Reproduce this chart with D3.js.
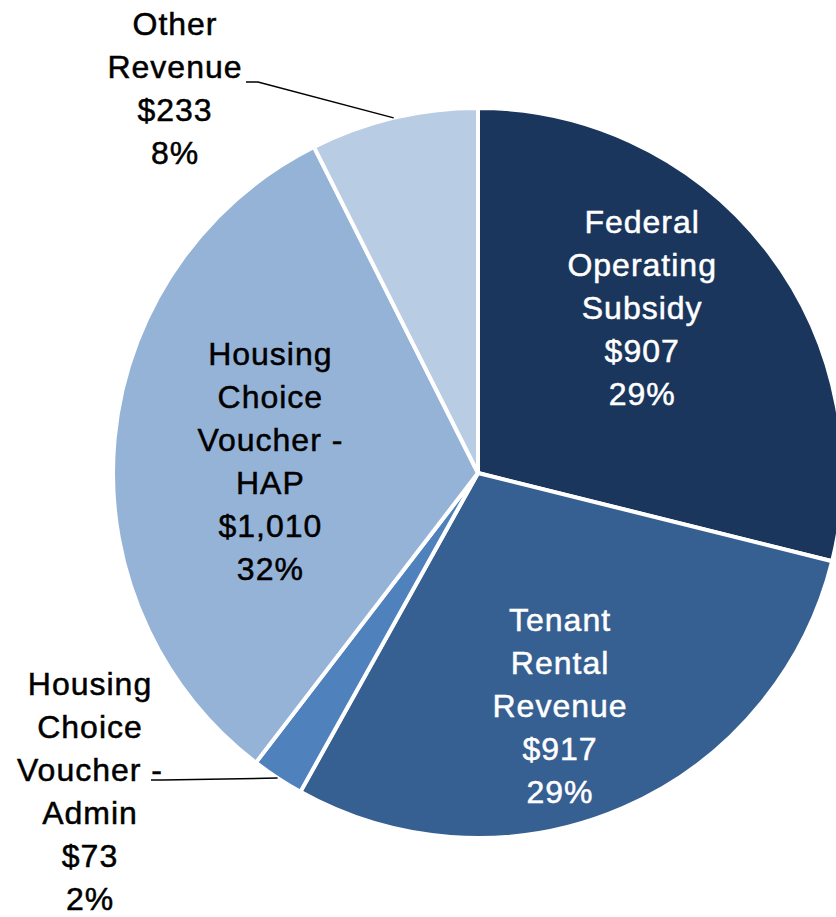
<!DOCTYPE html>
<html>
<head>
<meta charset="utf-8">
<script src="https://cdnjs.cloudflare.com/ajax/libs/d3/7.8.5/d3.min.js"></script>
<style>
  body { margin: 0; background: #fff; }
  text { font-family: "Liberation Sans", Arial, sans-serif; font-size: 32px; letter-spacing: 1px; stroke-width: 0.5px; }
</style>
</head>
<body>
<div id="chart"></div>
<script>
const svgWidth = 836;
const svgHeight = 917;

// data
const categories = ["Federal Operating Subsidy", "Tenant Rental Revenue", "Housing Choice Voucher - Admin", "Housing Choice Voucher - HAP", "Other Revenue"];
const labelLines = [
  ["Federal", "Operating", "Subsidy"],
  ["Tenant", "Rental", "Revenue"],
  ["Housing", "Choice", "Voucher -", "Admin"],
  ["Housing", "Choice", "Voucher -", "HAP"],
  ["Other", "Revenue"]
];
const values = [907, 917, 73, 1010, 233];
const pctLabels = ["29%", "29%", "2%", "32%", "8%"];
const colors = ["#1b365d", "#376092", "#4f81bd", "#95b3d7", "#b8cce4"];
const textColors = ["#fff", "#fff", "#000", "#000", "#000"];

const cx = 478, cy = 473, radius = 365;
const lineH = 43;

let svg = d3.select("#chart").append("svg").attr("width", svgWidth).attr("height", svgHeight);
let g = svg.append("g").attr("transform", `translate(${cx}, ${cy})`);

let pie = d3.pie().sort(null).value(d => d.value);
let arcs = pie(values.map((v, i) => ({ value: v, i: i })));
let arc = d3.arc().innerRadius(0).outerRadius(radius);

g.selectAll("path.slice")
  .data(arcs)
  .enter()
  .append("path")
  .attr("class", "slice")
  .attr("d", arc)
  .attr("fill", d => colors[d.data.i])
  .attr("stroke", "#fff")
  .attr("stroke-width", 4)
  .attr("stroke-linejoin", "round");

// label placement: inside labels as polar (angle, dist), outside labels with leader lines
let inside = { 0: [44.8, 233], 1: [160.6, 247], 3: [273.3, 208] };
let outside = { 4: { elbow: [-220, -391], text: [-303, -385] }, 2: { elbow: [-315, 307], text: [-388, 318] } };

let fmt = d3.format(",");
let lbls = arcs.map(d => {
  let i = d.data.i;
  let lines = labelLines[i].concat(["$" + fmt(values[i]), pctLabels[i]]);
  return { d: d, i: i, lines: lines };
});

lbls.forEach(l => {
  let x, y;
  if (inside[l.i]) {
    let a = inside[l.i][0] * Math.PI / 180;
    x = Math.sin(a) * inside[l.i][1];
    y = -Math.cos(a) * inside[l.i][1];
  } else {
    let o = outside[l.i];
    let mid = (l.d.startAngle + l.d.endAngle) / 2;
    let p0 = [Math.sin(mid) * radius, -Math.cos(mid) * radius];
    g.append("polyline")
      .attr("points", [p0, o.elbow, [o.elbow[0] - 12, o.elbow[1]]].map(p => p.join(",")).join(" "))
      .attr("fill", "none")
      .attr("stroke", "#000")
      .attr("stroke-width", 1.5);
    x = o.text[0];
    y = o.text[1];
  }
  let t = g.append("text")
    .attr("text-anchor", "middle")
    .attr("fill", textColors[l.i])
    .attr("stroke", textColors[l.i]);
  let n = l.lines.length;
  l.lines.forEach((s, k) => {
    t.append("tspan")
      .attr("x", x)
      .attr("y", y + (k - (n - 1) / 2) * lineH)
      .attr("dy", "0.35em")
      .text(s);
  });
});
</script>
</body>
</html>
